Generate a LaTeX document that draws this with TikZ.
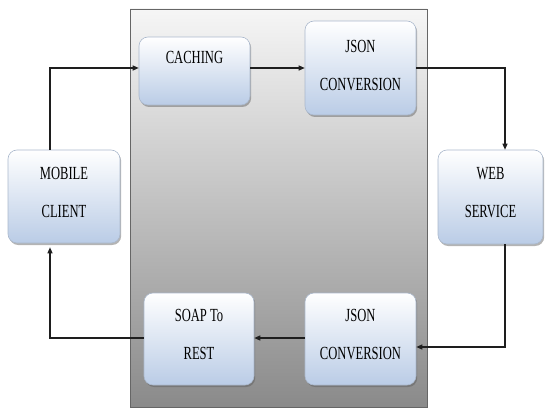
\documentclass[tikz,border=0pt]{standalone}
\usepackage{fontspec}
\newfontfamily\boxfont[FakeStretch=0.68]{Liberation Serif}
\usetikzlibrary{arrows.meta,shadows}

\definecolor{boxblue}{RGB}{186,204,230}
\definecolor{boxedge}{RGB}{170,184,204}
\definecolor{panetop}{RGB}{246,246,246}
\definecolor{panebot}{RGB}{138,138,138}
\definecolor{wire}{RGB}{30,30,30}

\tikzset{
  pane/.style={draw=gray!80!black, line width=0.8pt, top color=panetop, bottom color=panebot},
  blockbox/.style={draw=boxedge, line width=0.6pt, rounded corners=9pt,
    top color=white, bottom color=boxblue, inner sep=0pt,
    drop shadow={shadow xshift=1.2pt, shadow yshift=-2pt, opacity=0.45, fill=gray!70!black}},
  lbl/.style={font=\boxfont\fontsize{18.5}{38}\selectfont, align=center, inner sep=0pt, text=black},
  flow/.style={draw=wire, line width=1.1pt, -{Triangle[length=6pt,width=5pt]}}
}

\begin{document}
\begin{tikzpicture}[x=1pt,y=-1pt]
\useasboundingbox (0,0) rectangle (546,409);

% shaded panel behind the middle steps
\node[pane, minimum width=297pt, minimum height=398pt, inner sep=0pt] (panel) at (278.5,208) {};

% blocks
\node[blockbox, minimum width=111pt, minimum height=68pt] (cach) at (194.5,71) {};
\node[blockbox, minimum width=111pt, minimum height=94pt] (jsonA) at (360.5,68) {};
\node[blockbox, minimum width=112pt, minimum height=93pt] (mob) at (64,196.5) {};
\node[blockbox, minimum width=105pt, minimum height=94pt] (web) at (490.5,197) {};
\node[blockbox, minimum width=111pt, minimum height=92pt] (jsonB) at (360.5,339) {};
\node[blockbox, minimum width=110pt, minimum height=92pt] (soap) at (199,339) {};

% labels (yshift is upward on the page)
\node[lbl] (cachT) at ([yshift=14pt]cach.center) {CACHING};
\node[lbl] (jsonAT) at ([yshift=2pt]jsonA.center) {JSON\\CONVERSION};
\node[lbl] (mobT) at ([yshift=4.5pt]mob.center) {MOBILE\\CLIENT};
\node[lbl] (webT) at ([yshift=4.5pt]web.center) {WEB\\SERVICE};
\node[lbl] (jsonBT) at ([yshift=4pt]jsonB.center) {JSON\\CONVERSION};
\node[lbl] (soapT) at ([yshift=5pt]soap.center) {SOAP To\\REST};

% connectors
\draw[flow] ([xshift=-14pt]mob.north) |- ([yshift=3pt]cach.west);
\draw[flow] ([yshift=3pt]cach.east) -- ([yshift=3pt]cach.east -| jsonA.west);
\draw[flow] (jsonA.east) -| ([xshift=14.5pt]web.north);
\draw[flow] ([xshift=14.5pt]web.south) |- ([yshift=-8pt]jsonB.east);
\draw[flow] ([yshift=1pt]jsonB.west) -- ([yshift=1pt]soap.east);
\draw[flow, shorten >=4pt] ([yshift=1pt]soap.west) -| ([xshift=-14pt]mob.south);
\end{tikzpicture}
\end{document}
